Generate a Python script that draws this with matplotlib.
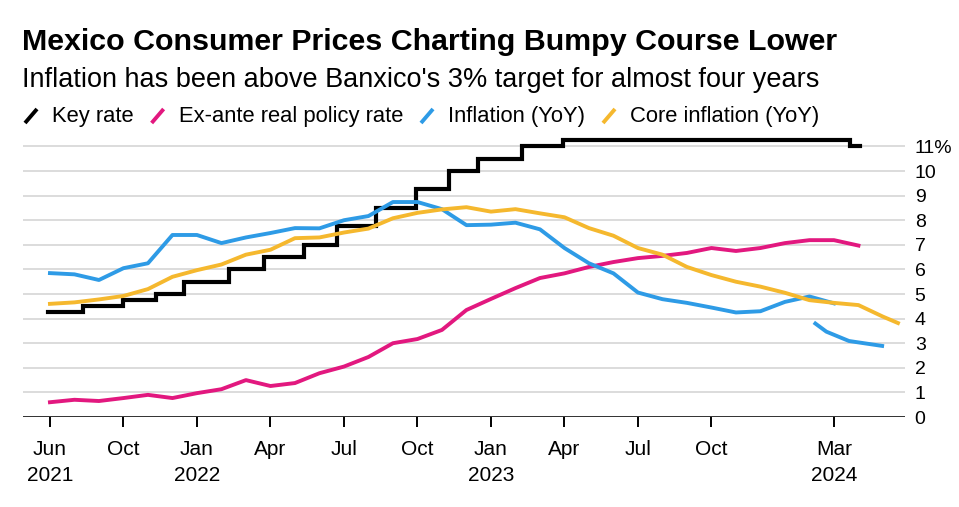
import numpy as np
import pandas as pd
import matplotlib
matplotlib.use("Agg")
import matplotlib.pyplot as plt
from matplotlib.lines import Line2D

# Datos (en %)
key_dates = ["2021-06-28", "2021-08-12", "2021-09-30", "2021-11-11", "2021-12-16",
             "2022-02-10", "2022-03-24", "2022-05-12", "2022-06-23", "2022-08-11",
             "2022-09-29", "2022-11-10", "2022-12-15", "2023-02-09", "2023-03-30",
             "2024-03-21", "2024-04-03"]
key_rate = [4.25, 4.50, 4.75, 5.00, 5.50, 6.00, 6.50, 7.00, 7.75, 8.50,
            9.25, 10.00, 10.50, 11.00, 11.25, 11.00, 11.00]

# series mensuales desde jun 2021
real_rate = [0.60, 0.70, 0.65, 0.77, 0.90, 0.77, 0.97,
             1.13, 1.50, 1.26, 1.38, 1.78, 2.05, 2.44, 3.00, 3.17, 3.54, 4.35, 4.80,
             5.24, 5.65, 5.84, 6.10, 6.30, 6.46, 6.55, 6.67, 6.87, 6.75, 6.87, 7.07,
             7.19, 7.19, 6.97]
inflation = [5.85, 5.80, 5.57, 6.05, 6.25, 7.40, 7.40,
             7.07, 7.30, 7.48, 7.68, 7.67, 8.00, 8.17, 8.74, 8.74, 8.45, 7.80, 7.82,
             7.90, 7.63, 6.87, 6.25, 5.84, 5.06, 4.79, 4.64, 4.45, 4.25, 4.30, 4.68,
             4.90, 4.62]
core = [4.60, 4.66, 4.78, 4.92, 5.20, 5.70, 5.97,
        6.20, 6.60, 6.80, 7.27, 7.30, 7.50, 7.66, 8.08, 8.30, 8.44, 8.53, 8.35,
        8.45, 8.28, 8.12, 7.68, 7.37, 6.87, 6.60, 6.10, 5.77, 5.50, 5.30, 5.05,
        4.75, 4.64, 4.55, 4.08]
core_end_date = "2024-05-20"
core_end = 3.82

# tramo final suelto de la inflación
infl_tail_dates = ["2024-02-08", "2024-02-21", "2024-03-20", "2024-04-30"]
infl_tail = [3.80, 3.47, 3.09, 2.89]

tick_dates = ["2021-07-01", "2021-10-01", "2022-01-01", "2022-04-01", "2022-07-01",
              "2022-10-01", "2023-01-01", "2023-04-01", "2023-07-01", "2023-10-01",
              "2024-03-01"]
tick_labels = ["Jun\n2021", "Oct", "Jan\n2022", "Apr", "Jul", "Oct", "Jan\n2023",
               "Apr", "Jul", "Oct", "Mar\n2024"]


def month_pos(dates):
    d = pd.to_datetime(pd.Series(dates))
    return ((d.dt.year - 2021) * 12 + (d.dt.month - 7)
            + (d.dt.day - 1) / d.dt.days_in_month).to_numpy()


def monthly_pos(n):
    months = pd.period_range("2021-06", periods=n, freq="M")
    return month_pos((months + 1).to_timestamp())


BLACK = "#000000"
PINK = "#e2187f"
BLUE = "#2e9be6"
YELLOW = "#f5b82e"

plt.rcParams["font.family"] = ["Liberation Sans", "DejaVu Sans"]

W, H = 959, 507
fig = plt.figure(figsize=(W / 100, H / 100), dpi=100)
ax = fig.add_axes([23 / W, (H - 417) / H, 882 / W, 280.4 / H])

kx = month_pos(key_dates)
ax.step(kx, key_rate, where="post", color=BLACK, lw=3.0, solid_joinstyle="miter", zorder=3)
ax.plot(monthly_pos(len(real_rate)), real_rate, color=PINK, lw=2.8, zorder=4)
ax.plot(monthly_pos(len(inflation)), inflation, color=BLUE, lw=2.8, zorder=5)
ax.plot(month_pos(infl_tail_dates), infl_tail, color=BLUE, lw=2.8, zorder=5)
cx = np.append(monthly_pos(len(core)), month_pos([core_end_date]))
ax.plot(cx, core + [core_end], color=YELLOW, lw=2.8, zorder=6)

ax.set_xlim(-1.1, 34.9)
ax.set_ylim(0, 11.4)
for s in ax.spines.values():
    s.set_visible(False)
ax.axhline(0, color=BLACK, lw=1.8, zorder=2)

ax.yaxis.tick_right()
ax.set_yticks(range(12))
ax.set_yticklabels([str(i) for i in range(11)] + ["11%"])
ax.tick_params(axis="y", length=0, pad=7, labelsize=14)
ax.grid(axis="y", color="#d9d9d9", lw=1.3, zorder=1)

ax.set_xticks(month_pos(tick_dates))
ax.set_xticklabels(tick_labels, linespacing=1.45)
ax.tick_params(axis="x", length=7, width=1.4, color=BLACK, pad=9.5, labelsize=15)

# Títulos
fig.text(22 / W, 1 - 42 / H, "Mexico Consumer Prices Charting Bumpy Course Lower",
         fontsize=21.9, fontweight="bold", va="center", ha="left")
fig.text(22 / W, 1 - 80 / H, "Inflation has been above Banxico's 3% target for almost four years",
         fontsize=19.5, va="center", ha="left")

# Leyenda
legend_items = [("Key rate", BLACK), ("Ex-ante real policy rate", PINK),
                ("Inflation (YoY)", BLUE), ("Core inflation (YoY)", YELLOW)]
renderer = fig.canvas.get_renderer()
x = 25
ly = 116
for label, color in legend_items:
    fig.add_artist(Line2D([x / W, (x + 12) / W], [1 - (ly + 7) / H, 1 - (ly - 7) / H],
                          color=color, lw=2.8, solid_capstyle="butt"))
    t = fig.text((x + 27) / W, 1 - ly / H, label, fontsize=15.8, va="center", ha="left")
    bb = t.get_window_extent(renderer)
    x = bb.x1 + 18

fig.savefig("out.png", dpi=100)
